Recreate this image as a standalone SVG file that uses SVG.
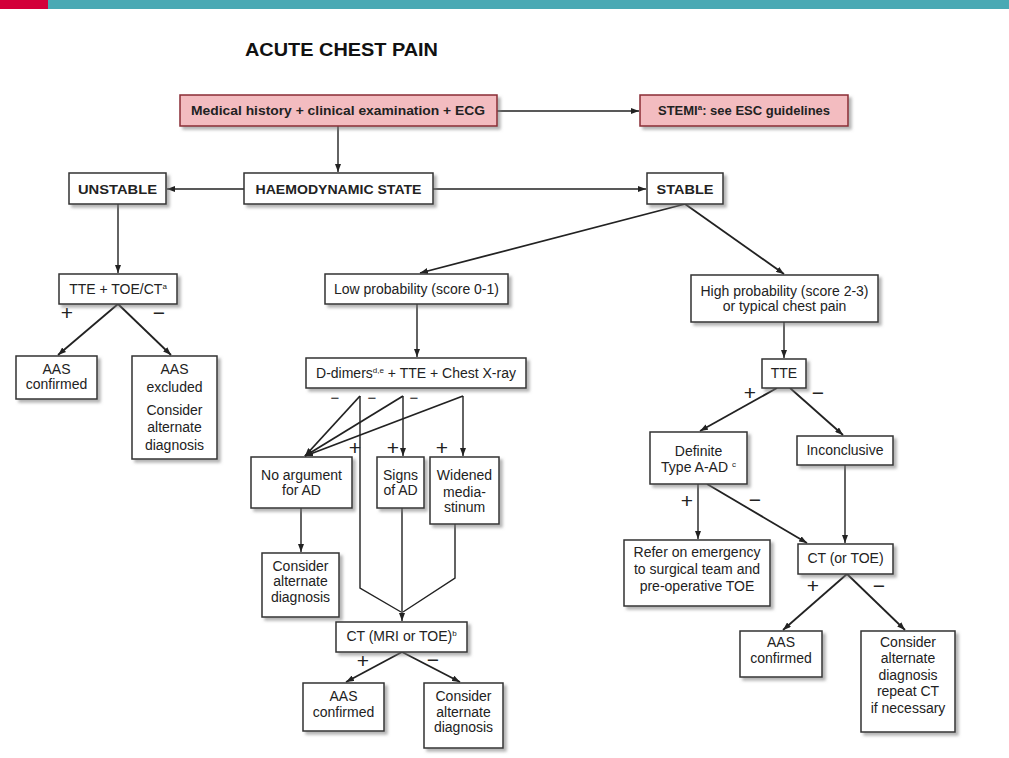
<svg xmlns="http://www.w3.org/2000/svg" width="1009" height="758" viewBox="0 0 1009 758">
<defs>
<filter id="sh" x="-20%" y="-20%" width="140%" height="150%">
<feDropShadow dx="3" dy="3" stdDeviation="1.8" flood-color="#777" flood-opacity="0.55"/>
</filter>
<marker id="ah" viewBox="0 0 8 6" refX="8" refY="3" markerWidth="8" markerHeight="6" markerUnits="userSpaceOnUse" orient="auto">
<path d="M0,0 L8,3 L0,6 z" fill="#222"/>
</marker>
<style>
.box{fill:#fff;stroke:#333;stroke-width:1.5;filter:url(#sh)}
.pink{fill:#f3bcc0;stroke:#8a2c34;stroke-width:1.5;filter:url(#sh)}
.t{font-family:"Liberation Sans",Arial,sans-serif;font-size:14px;fill:#222;text-anchor:middle}
.b{font-family:"Liberation Sans",Arial,sans-serif;font-size:13px;font-weight:bold;fill:#222;text-anchor:middle}
.sup{font-size:8px}
.pm{font-family:"Liberation Sans",Arial,sans-serif;font-size:21px;fill:#222;text-anchor:middle}
.pms{font-family:"Liberation Sans",Arial,sans-serif;font-size:15px;fill:#222;text-anchor:middle}
.c{fill:none;stroke:#222;stroke-width:1.4}
.a{fill:none;stroke:#222;stroke-width:1.4;marker-end:url(#ah)}
.d{fill:none;stroke:#222;stroke-width:1.8;marker-end:url(#ah)}
</style>
</defs>
<rect x="0" y="0" width="1009" height="758" fill="#fff"/>
<rect x="0" y="0" width="48" height="9" fill="#d3003a"/>
<rect x="48" y="0" width="961" height="9" fill="#4aa9b4"/>
<text x="245" y="56" font-family="'Liberation Sans',Arial,sans-serif" font-size="19" font-weight="bold" fill="#111" textLength="193" lengthAdjust="spacingAndGlyphs">ACUTE CHEST PAIN</text>

<g id="connectors">
<path class="a" d="M497,111 L639,111"/>
<path class="a" d="M338,126 L338,172"/>
<path class="a" d="M244,189 L167,189"/>
<path class="a" d="M433,189 L646,189"/>
<path class="a" d="M118,204 L118,273"/>
<path class="d" d="M118,304 L58,355"/>
<path class="d" d="M118,304 L171,355"/>
<path class="d" d="M685,204 L420,273"/>
<path class="d" d="M685,204 L784,274"/>
<path class="a" d="M417,304 L417,357"/>
<path class="d" d="M360,396 L305,456"/>
<path class="d" d="M403,396 L305,456"/>
<path class="d" d="M463,396 L305,456"/>
<path class="c" d="M360,396 L360,588 L401,612"/>
<path class="a" d="M403,396 L403,456"/>
<path class="a" d="M463,396 L463,456"/>
<path class="a" d="M301,508 L301,552"/>
<path class="a" d="M402,508 L402,621"/>
<path class="c" d="M455,524 L455,578 L403,612"/>
<path class="d" d="M402,652 L346,682"/>
<path class="d" d="M402,652 L460,682"/>
<path class="a" d="M784,322 L784,358"/>
<path class="d" d="M777,388 L700,431"/>
<path class="d" d="M790,388 L843,435"/>
<path class="a" d="M698,484 L698,539"/>
<path class="d" d="M707,484 L807,543"/>
<path class="a" d="M845,465 L845,543"/>
<path class="d" d="M847,574 L783,630"/>
<path class="d" d="M847,574 L905,630"/>
</g>

<g id="labels">
<text class="pm" x="67" y="320">+</text>
<text class="pm" x="159" y="320">−</text>
<text class="pms" x="335" y="403">−</text>
<text class="pms" x="372" y="403">−</text>
<text class="pms" x="414" y="403">−</text>
<text class="pm" x="355" y="455">+</text>
<text class="pm" x="393" y="455">+</text>
<text class="pm" x="442" y="455">+</text>
<text class="pm" x="363" y="668">+</text>
<text class="pm" x="433" y="667">−</text>
<text class="pm" x="750" y="400">+</text>
<text class="pm" x="818" y="400">−</text>
<text class="pm" x="687" y="508">+</text>
<text class="pm" x="755" y="507">−</text>
<text class="pm" x="813" y="593">+</text>
<text class="pm" x="879" y="593">−</text>
</g>

<g id="n-medical">
<rect class="pink" x="180" y="95" width="317" height="31"/>
<text class="b" x="338" y="115" textLength="294" lengthAdjust="spacingAndGlyphs">Medical history + clinical examination + ECG</text>
</g>
<g id="n-stemi">
<rect class="pink" x="640" y="95" width="208" height="31"/>
<text class="b" x="744" y="115">STEMI<tspan class="sup" dy="-5">a</tspan><tspan dy="5">: see ESC guidelines</tspan></text>
</g>
<g id="n-haemo">
<rect class="box" x="244" y="173" width="189" height="31"/>
<text class="b" x="338.5" y="194" textLength="166" lengthAdjust="spacingAndGlyphs">HAEMODYNAMIC STATE</text>
</g>
<g id="n-unstable">
<rect class="box" x="69" y="173" width="97" height="31"/>
<text class="b" x="117.5" y="194" textLength="79" lengthAdjust="spacingAndGlyphs">UNSTABLE</text>
</g>
<g id="n-stable">
<rect class="box" x="647" y="173" width="76" height="31"/>
<text class="b" x="685" y="194" textLength="57" lengthAdjust="spacingAndGlyphs">STABLE</text>
</g>
<g id="n-tte-toe">
<rect class="box" x="59" y="274" width="118" height="30"/>
<text class="t" x="118" y="294">TTE + TOE/CT<tspan class="sup" dy="-5">a</tspan></text>
</g>
<g id="n-aas-conf-1">
<rect class="box" x="16" y="356" width="81" height="43"/>
<text class="t" x="56.5" y="374">AAS</text>
<text class="t" x="56.5" y="389">confirmed</text>
</g>
<g id="n-aas-excl">
<rect class="box" x="132" y="356" width="85" height="103"/>
<text class="t" x="174.5" y="374">AAS</text>
<text class="t" x="174.5" y="392">excluded</text>
<text class="t" x="174.5" y="415">Consider</text>
<text class="t" x="174.5" y="432">alternate</text>
<text class="t" x="174.5" y="450">diagnosis</text>
</g>
<g id="n-low">
<rect class="box" x="325" y="274" width="183" height="30"/>
<text class="t" x="416.5" y="294">Low probability (score 0-1)</text>
</g>
<g id="n-ddimers">
<rect class="box" x="306" y="358" width="220" height="30"/>
<text class="t" x="416" y="378">D-dimers<tspan class="sup" dy="-5">d,e</tspan><tspan dy="5"> + TTE + Chest X-ray</tspan></text>
</g>
<g id="n-noarg">
<rect class="box" x="251" y="457" width="101" height="51"/>
<text class="t" x="301.5" y="480">No argument</text>
<text class="t" x="301.5" y="495">for AD</text>
</g>
<g id="n-signs">
<rect class="box" x="377" y="457" width="47" height="51"/>
<text class="t" x="400.5" y="480">Signs</text>
<text class="t" x="400.5" y="495">of AD</text>
</g>
<g id="n-widened">
<rect class="box" x="430" y="457" width="69" height="67"/>
<text class="t" x="464.5" y="480">Widened</text>
<text class="t" x="464.5" y="497">media-</text>
<text class="t" x="464.5" y="512">stinum</text>
</g>
<g id="n-consider-1">
<rect class="box" x="262" y="553" width="77" height="64"/>
<text class="t" x="300.5" y="571">Consider</text>
<text class="t" x="300.5" y="586">alternate</text>
<text class="t" x="300.5" y="602">diagnosis</text>
</g>
<g id="n-ct-mri">
<rect class="box" x="336" y="622" width="131" height="30"/>
<text class="t" x="401.5" y="641">CT (MRI or TOE)<tspan class="sup" dy="-5">b</tspan></text>
</g>
<g id="n-aas-conf-2">
<rect class="box" x="303" y="683" width="81" height="48"/>
<text class="t" x="343.5" y="701">AAS</text>
<text class="t" x="343.5" y="717">confirmed</text>
</g>
<g id="n-consider-2">
<rect class="box" x="424" y="683" width="79" height="65"/>
<text class="t" x="463.5" y="701">Consider</text>
<text class="t" x="463.5" y="717">alternate</text>
<text class="t" x="463.5" y="732">diagnosis</text>
</g>
<g id="n-high">
<rect class="box" x="691" y="275" width="187" height="47"/>
<text class="t" x="784.5" y="296">High probability (score 2-3)</text>
<text class="t" x="784.5" y="311">or typical chest pain</text>
</g>
<g id="n-tte">
<rect class="box" x="762" y="359" width="44" height="29"/>
<text class="t" x="784" y="378">TTE</text>
</g>
<g id="n-definite">
<rect class="box" x="650" y="432" width="97" height="52"/>
<text class="t" x="698.5" y="456">Definite</text>
<text class="t" x="698.5" y="472">Type A-AD <tspan class="sup" dy="-5">c</tspan></text>
</g>
<g id="n-inconclusive">
<rect class="box" x="797" y="436" width="96" height="29"/>
<text class="t" x="845" y="455">Inconclusive</text>
</g>
<g id="n-refer">
<rect class="box" x="624" y="540" width="146" height="66"/>
<text class="t" x="697" y="557">Refer on emergency</text>
<text class="t" x="697" y="574">to surgical team and</text>
<text class="t" x="697" y="591">pre-operative TOE</text>
</g>
<g id="n-ct-toe">
<rect class="box" x="798" y="544" width="95" height="30"/>
<text class="t" x="845.5" y="563">CT (or TOE)</text>
</g>
<g id="n-aas-conf-3">
<rect class="box" x="740" y="631" width="82" height="46"/>
<text class="t" x="781" y="647">AAS</text>
<text class="t" x="781" y="663">confirmed</text>
</g>
<g id="n-consider-3">
<rect class="box" x="861" y="631" width="94" height="101"/>
<text class="t" x="908" y="647">Consider</text>
<text class="t" x="908" y="663">alternate</text>
<text class="t" x="908" y="680">diagnosis</text>
<text class="t" x="908" y="696">repeat CT</text>
<text class="t" x="908" y="713">if necessary</text>
</g>
</svg>
